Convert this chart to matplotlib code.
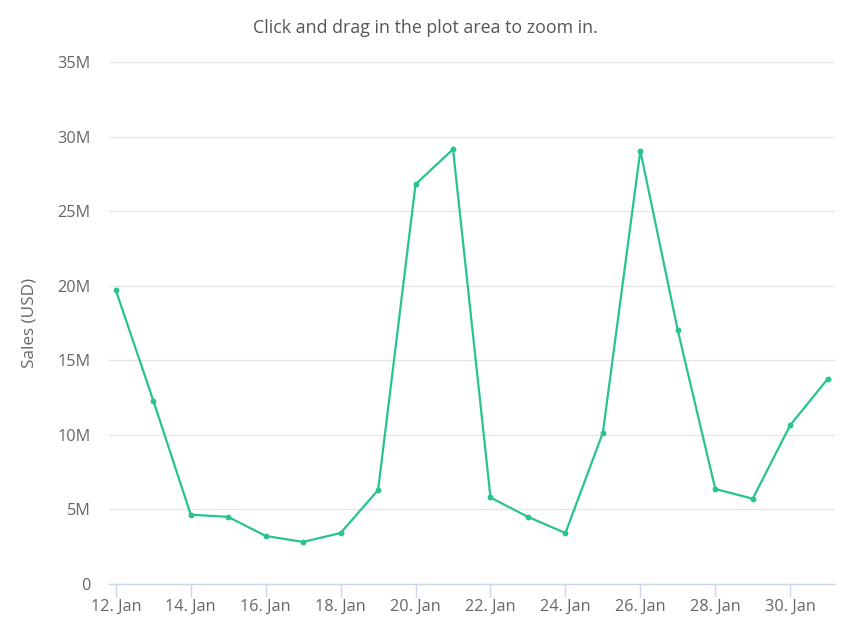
import matplotlib
matplotlib.use("Agg")
import matplotlib.pyplot as plt
import matplotlib.dates as mdates
import pandas as pd

plt.rcParams['font.family'] = ['Open Sans', 'DejaVu Sans']

# Daily sales, 12 Jan to 31 Jan (millions of USD)
dates = pd.date_range("2024-01-12", "2024-01-31", freq="D")
sales_m = [19.7, 12.3, 4.65, 4.5, 3.22, 2.82, 3.42, 6.3, 26.8, 29.15,
           5.8, 4.5, 3.42, 10.15, 29.05, 17.0, 6.37, 5.72, 10.65, 13.75]
yticks = [0, 5, 10, 15, 20, 25, 30, 35]

line_color = '#27c48c'
grid_color = '#e6e6e6'
text_color = '#666666'

fig = plt.figure(figsize=(8.5, 6.37), dpi=100)
ax = fig.add_axes([0.128, 0.0832, 0.854, 0.8195])

ax.plot(dates, sales_m, color=line_color, linewidth=1.6, marker='o',
        markersize=4.2, markeredgewidth=0, zorder=3)

ax.set_ylim(0, 35)
ax.set_yticks(yticks)
ax.set_yticklabels(["0" if v == 0 else f"{v}M" for v in yticks])
pad = pd.Timedelta(hours=4.5)
ax.set_xlim(dates[0] - pad, dates[-1] + pad)
ax.xaxis.set_major_locator(mdates.DayLocator(bymonthday=range(12, 32, 2)))
ax.xaxis.set_major_formatter(
    plt.FuncFormatter(lambda x, _: f"{mdates.num2date(x).day}. Jan"))

ax.grid(axis='y', color=grid_color, linewidth=1)
ax.set_axisbelow(True)
for side in ['top', 'right', 'left']:
    ax.spines[side].set_visible(False)
ax.spines['bottom'].set_color('#ccd6eb')
ax.spines['bottom'].set_linewidth(1)

ax.tick_params(axis='y', length=0, pad=13, labelsize=11.7, labelcolor=text_color)
ax.tick_params(axis='x', length=9, width=1, color='#ccd6eb', pad=2,
               labelsize=11.7, labelcolor=text_color)

ax.set_ylabel("Sales (USD)", fontsize=12.3, color=text_color, labelpad=14)
fig.text(0.5, 0.956, "Click and drag in the plot area to zoom in.",
         ha='center', va='center', fontsize=12.8, color='#555555')

fig.savefig("out.png", dpi=100, facecolor='white')
